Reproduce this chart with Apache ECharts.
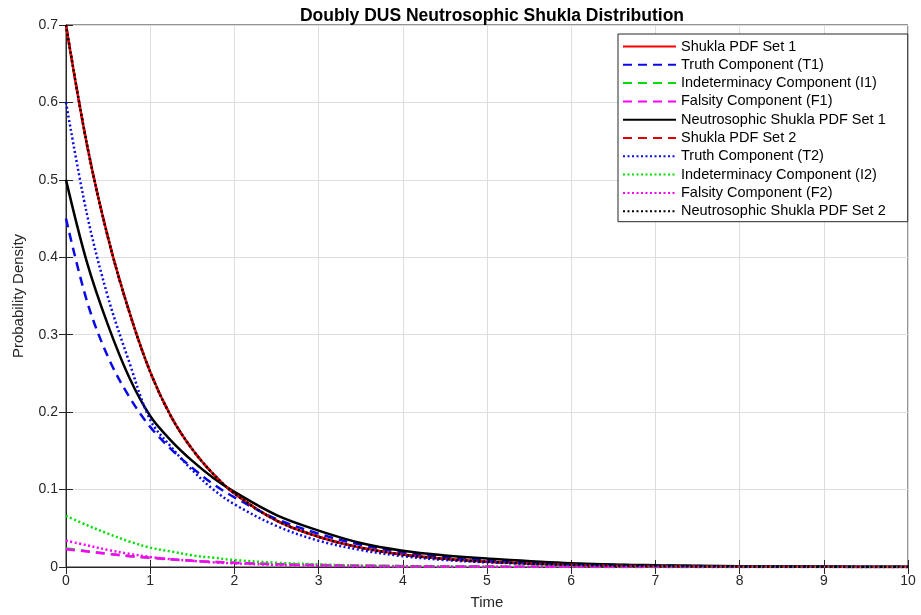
<!DOCTYPE html>
<html>
<head>
<meta charset="utf-8">
<script src="https://cdn.jsdelivr.net/npm/echarts@6/dist/echarts.min.js"></script>
<style>
  html, body { margin: 0; padding: 0; background: #fff; }
  #chart { width: 921px; height: 615px; }
</style>
</head>
<body>
<div id="chart"></div>
<script>
// Time grid at which each curve is sampled
const timePoints = [0, 0.25, 0.5, 0.75, 1, 1.25, 1.5, 1.75, 2, 2.5, 3, 3.5, 4, 4.5, 5, 6, 7, 8, 9, 10];

// Set 1
const shuklaSet1 = [0.7, 0.545, 0.425, 0.33, 0.252, 0.194, 0.152, 0.12, 0.095, 0.06, 0.039, 0.025, 0.016, 0.0105, 0.0068, 0.0028, 0.0012, 0.0005, 0.0002, 0.0001];
const truthT1 = [0.45, 0.343, 0.271, 0.22, 0.181, 0.152, 0.128, 0.107, 0.09, 0.062, 0.043, 0.0286, 0.019, 0.013, 0.009, 0.004, 0.0018, 0.0008, 0.0004, 0.0002];
const indetI1 = [0.024, 0.0205, 0.0172, 0.0142, 0.0118, 0.0098, 0.008, 0.0066, 0.0055, 0.0037, 0.0025, 0.0017, 0.0011, 0.0008, 0.0005, 0.0002, 0.0001, 0.00005, 0.00002, 0.00001];
const falsityF1 = [0.023, 0.02, 0.017, 0.014, 0.012, 0.01, 0.008, 0.0066, 0.0055, 0.0037, 0.0025, 0.0017, 0.0011, 0.0008, 0.0005, 0.0002, 0.0001, 0.00005, 0.00002, 0.00001];
const neutroSet1 = [0.5, 0.393, 0.312, 0.245, 0.195, 0.163, 0.137, 0.115, 0.097, 0.067, 0.047, 0.031, 0.021, 0.015, 0.011, 0.005, 0.0023, 0.001, 0.0005, 0.0002];

// Set 2
const shuklaSet2 = [0.7, 0.545, 0.425, 0.33, 0.252, 0.194, 0.152, 0.12, 0.095, 0.06, 0.039, 0.025, 0.016, 0.0105, 0.0068, 0.0028, 0.0012, 0.0005, 0.0002, 0.0001];
const truthT2 = [0.6, 0.455, 0.348, 0.265, 0.19, 0.155, 0.125, 0.1, 0.081, 0.053, 0.034, 0.022, 0.014, 0.009, 0.006, 0.0025, 0.001, 0.0004, 0.0002, 0.0001];
const indetI2 = [0.066, 0.054, 0.043, 0.033, 0.025, 0.02, 0.015, 0.012, 0.009, 0.0055, 0.0033, 0.002, 0.0012, 0.0007, 0.0004, 0.00015, 0.00005, 0.00002, 0.00001, 0];
const falsityF2 = [0.034, 0.028, 0.022, 0.017, 0.013, 0.01, 0.008, 0.006, 0.0047, 0.0028, 0.0017, 0.001, 0.0006, 0.0004, 0.0002, 0.0001, 0.00004, 0.00001, 0, 0];
const neutroSet2 = [0.7, 0.545, 0.425, 0.33, 0.252, 0.194, 0.152, 0.12, 0.095, 0.06, 0.039, 0.025, 0.016, 0.0105, 0.0068, 0.0028, 0.0012, 0.0005, 0.0002, 0.0001];

const xTicks = [0, 1, 2, 3, 4, 5, 6, 7, 8, 9, 10];
const yTicks = [0, 0.1, 0.2, 0.3, 0.4, 0.5, 0.6, 0.7];

const FONT = '"Liberation Sans", Arial, sans-serif';
const AXIS_COLOR = '#262626';

function pairs(values) {
  return timePoints.map((t, i) => [t, values[i]]);
}

function lineSeries(name, values, color, type, width) {
  return {
    name: name,
    type: 'line',
    data: pairs(values),
    showSymbol: false,
    symbol: 'none',
    symbolSize: 0,
    legendIcon: 'none',
    smooth: 0.35,
    xAxisIndex: 0,
    yAxisIndex: 0,
    lineStyle: { color: color, type: type, width: width },
    itemStyle: { color: color },
    emphasis: { disabled: true },
    animation: false
  };
}

const DASH = [9, 6];
const DOT = [2, 2.5];

const series = [
  lineSeries('Shukla PDF Set 1', shuklaSet1, '#ff0000', 'solid', 2.5),
  lineSeries('Truth Component (T1)', truthT1, '#0a0ae6', DASH, 2.5),
  lineSeries('Indeterminacy Component (I1)', indetI1, '#00e000', DASH, 2.5),
  lineSeries('Falsity Component (F1)', falsityF1, '#ff00ff', DASH, 2.5),
  lineSeries('Neutrosophic Shukla PDF Set 1', neutroSet1, '#000000', 'solid', 2.5),
  lineSeries('Shukla PDF Set 2', shuklaSet2, '#e00000', DASH, 2.5),
  lineSeries('Truth Component (T2)', truthT2, '#0a0ae6', DOT, 2.5),
  lineSeries('Indeterminacy Component (I2)', indetI2, '#00e000', DOT, 2.5),
  lineSeries('Falsity Component (F2)', falsityF2, '#ff00ff', DOT, 2.5),
  lineSeries('Neutrosophic Shukla PDF Set 2', neutroSet2, '#000000', DOT, 2.5)
];

const xMin = xTicks[0], xMax = xTicks[xTicks.length - 1];
const yMin = yTicks[0], yMax = yTicks[yTicks.length - 1];

const chart = echarts.init(document.getElementById('chart'), null, { renderer: 'canvas' });
chart.setOption({
  backgroundColor: '#ffffff',
  animation: false,
  title: {
    text: 'Doubly DUS Neutrosophic Shukla Distribution',
    left: 487,
    textAlign: 'center',
    top: 2,
    textStyle: { fontFamily: FONT, fontWeight: 'bold', fontSize: 17.5, color: '#000' }
  },
  grid: {
    left: 66, right: 13, top: 25, bottom: 47,
    show: true, borderColor: AXIS_COLOR, borderWidth: 1, backgroundColor: '#fff'
  },
  legend: {
    orient: 'vertical',
    left: 618,
    top: 34,
    itemWidth: 53,
    itemHeight: 12,
    itemGap: 3.3,
    padding: [5, 22, 3, 4],
    backgroundColor: '#ffffff',
    borderColor: AXIS_COLOR,
    borderWidth: 1,
    itemStyle: { opacity: 0 },
    textStyle: { fontFamily: FONT, fontSize: 14.5, lineHeight: 14, color: '#000', padding: [0, 0, 0, 0] },
    selectedMode: false
  },
  xAxis: [{
    type: 'value', position: 'bottom', min: xMin, max: xMax, interval: 1,
    name: 'Time', nameLocation: 'middle', nameGap: 28,
    nameTextStyle: { fontFamily: FONT, fontSize: 15, color: AXIS_COLOR },
    axisLine: { show: true, lineStyle: { color: AXIS_COLOR, width: 1 } },
    axisTick: { show: true, inside: true, length: 7, lineStyle: { color: AXIS_COLOR } },
    axisLabel: { fontFamily: FONT, fontSize: 14, color: AXIS_COLOR, margin: 7,
      formatter: v => String(v) },
    splitLine: { show: true, lineStyle: { color: '#dedede', width: 1 } }
  }, {
    type: 'value', position: 'top', min: xMin, max: xMax, interval: 1,
    axisLine: { show: true, lineStyle: { color: AXIS_COLOR, width: 1 } },
    axisTick: { show: true, inside: true, length: 7, lineStyle: { color: AXIS_COLOR } },
    axisLabel: { show: false },
    splitLine: { show: false }
  }],
  yAxis: [{
    type: 'value', position: 'left', min: yMin, max: yMax, interval: 0.1,
    name: 'Probability Density', nameLocation: 'middle', nameGap: 40, nameRotate: 90,
    nameTextStyle: { fontFamily: FONT, fontSize: 15, color: AXIS_COLOR },
    axisLine: { show: true, lineStyle: { color: AXIS_COLOR, width: 1 } },
    axisTick: { show: true, inside: true, length: 7, lineStyle: { color: AXIS_COLOR } },
    axisLabel: { fontFamily: FONT, fontSize: 14, color: AXIS_COLOR, margin: 8,
      formatter: v => (Math.round(v * 10) / 10).toString() },
    splitLine: { show: true, lineStyle: { color: '#dedede', width: 1 } }
  }, {
    type: 'value', position: 'right', min: yMin, max: yMax, interval: 0.1,
    axisLine: { show: true, lineStyle: { color: AXIS_COLOR, width: 1 } },
    axisTick: { show: true, inside: true, length: 7, lineStyle: { color: AXIS_COLOR } },
    axisLabel: { show: false },
    splitLine: { show: false }
  }],
  series: series
});
</script>
</body>
</html>
